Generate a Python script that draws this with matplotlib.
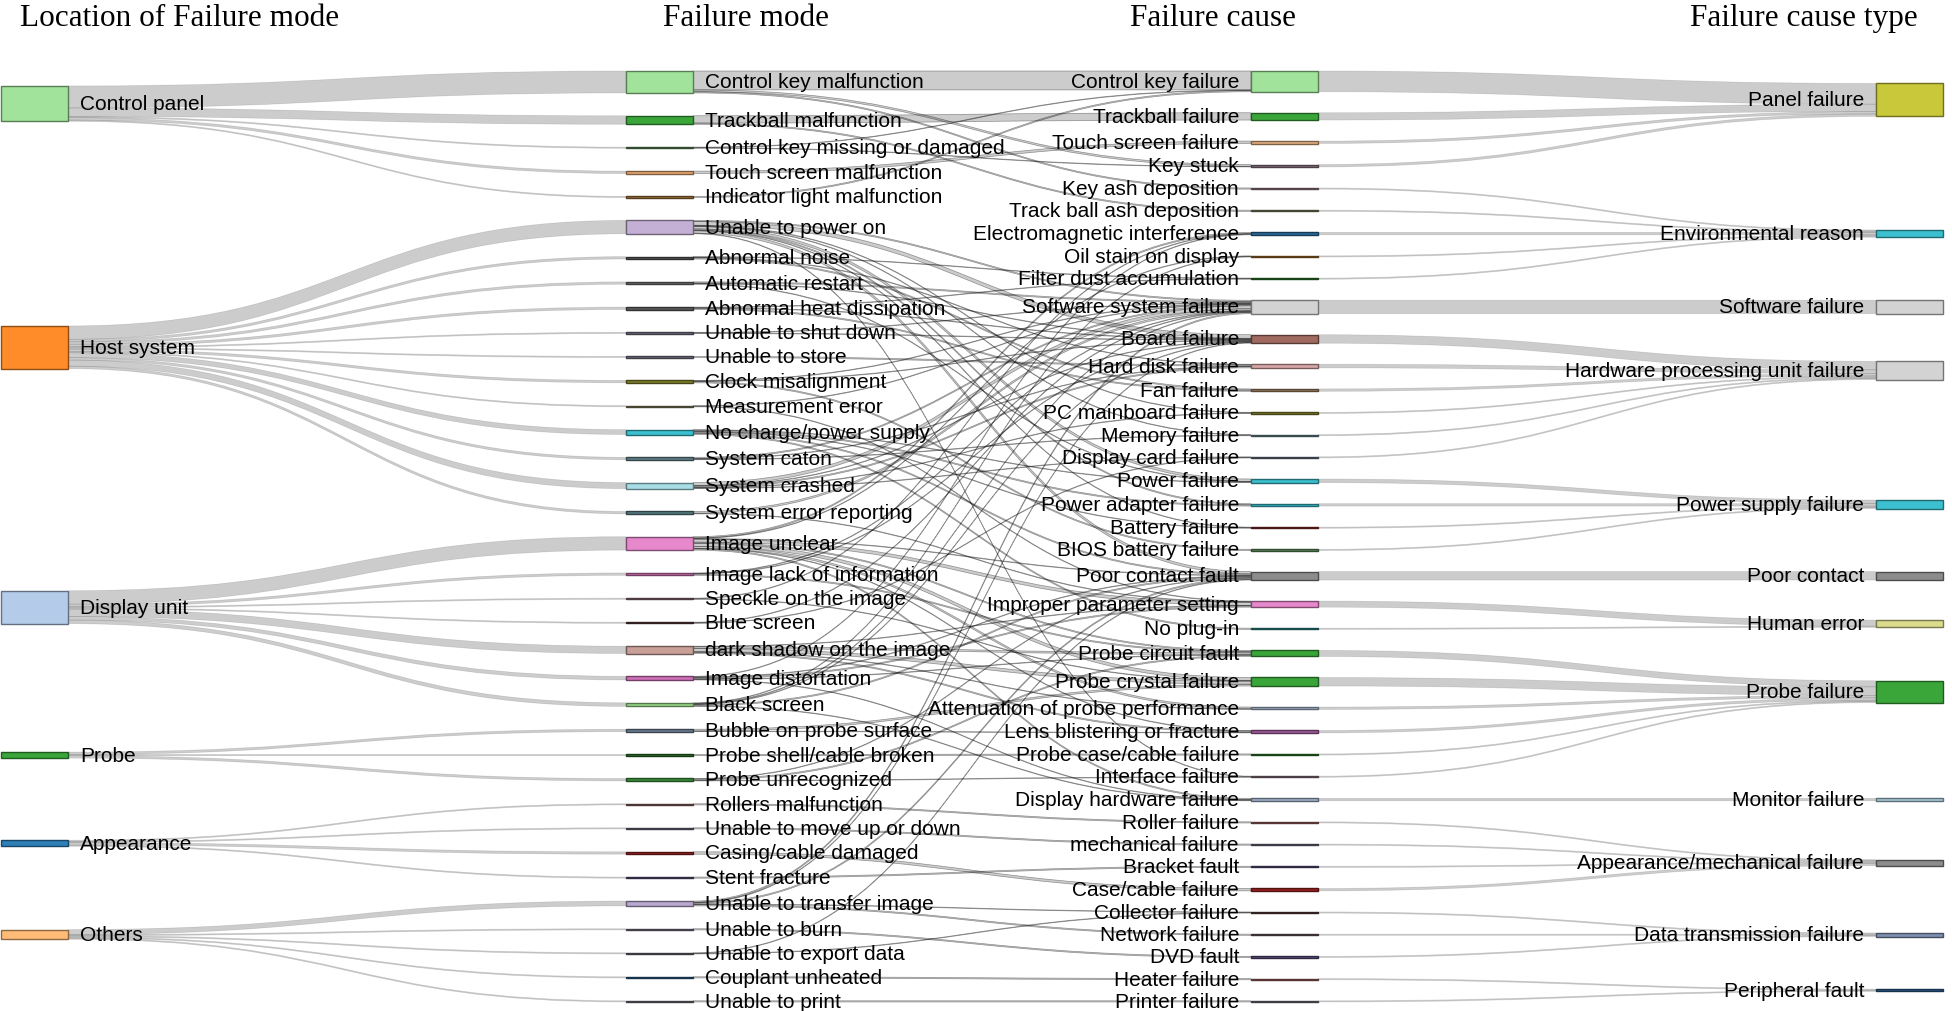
import numpy as np
import matplotlib
matplotlib.use("Agg")
import matplotlib.pyplot as plt
from matplotlib.path import Path
from matplotlib.patches import PathPatch, Rectangle
from matplotlib.colors import to_rgb

# ---------------------------------------------------------------- data
titles = ["Location of Failure mode", "Failure mode", "Failure cause", "Failure cause type"]

locations = ["Control panel", "Host system", "Display unit", "Probe", "Appearance", "Others"]

failure_modes = [
    "Control key malfunction", "Trackball malfunction", "Control key missing or damaged",
    "Touch screen malfunction", "Indicator light malfunction",
    "Unable to power on", "Abnormal noise", "Automatic restart", "Abnormal heat dissipation",
    "Unable to shut down", "Unable to store", "Clock misalignment", "Measurement error",
    "No charge/power supply", "System caton", "System crashed", "System error reporting",
    "Image unclear", "Image lack of information", "Speckle on the image", "Blue screen",
    "dark shadow on the image", "Image distortation", "Black screen",
    "Bubble on probe surface", "Probe shell/cable broken", "Probe unrecognized",
    "Rollers malfunction", "Unable to move up or down", "Casing/cable damaged", "Stent fracture",
    "Unable to transfer image", "Unable to burn", "Unable to export data", "Couplant unheated",
    "Unable to print",
]
mode_location = (["Control panel"] * 5 + ["Host system"] * 12 + ["Display unit"] * 7
                 + ["Probe"] * 3 + ["Appearance"] * 4 + ["Others"] * 5)
mode_counts = [36, 14, 2, 4, 2,
               22, 4, 4, 4, 2, 2, 4, 2, 8, 4, 10, 4,
               22, 4, 2, 2, 12, 6, 6,
               4, 2, 4,
               2, 2, 4, 2,
               8, 2, 2, 2, 2]

failure_causes = [
    "Control key failure", "Trackball failure", "Touch screen failure", "Key stuck",
    "Key ash deposition", "Track ball ash deposition", "Electromagnetic interference",
    "Oil stain on display", "Filter dust accumulation", "Software system failure",
    "Board failure", "Hard disk failure", "Fan failure", "PC mainboard failure",
    "Memory failure", "Display card failure", "Power failure", "Power adapter failure",
    "Battery failure", "BIOS battery failure", "Poor contact fault",
    "Improper parameter setting", "No plug-in", "Probe circuit fault", "Probe crystal failure",
    "Attenuation of probe performance", "Lens blistering or fracture",
    "Probe case/cable failure", "Interface failure", "Display hardware failure",
    "Roller failure", "mechanical failure", "Bracket fault", "Case/cable failure",
    "Collector failure", "Network failure", "DVD fault", "Heater failure", "Printer failure",
]
cause_type = (["Panel failure"] * 4 + ["Environmental reason"] * 5 + ["Software failure"]
              + ["Hardware processing unit failure"] * 6 + ["Power supply failure"] * 4
              + ["Poor contact"] + ["Human error"] * 2 + ["Probe failure"] * 6
              + ["Monitor failure"] + ["Appearance/mechanical failure"] * 4
              + ["Data transmission failure"] * 3 + ["Peripheral fault"] * 2)

cause_types = ["Panel failure", "Environmental reason", "Software failure",
               "Hardware processing unit failure", "Power supply failure", "Poor contact",
               "Human error", "Probe failure", "Monitor failure",
               "Appearance/mechanical failure", "Data transmission failure", "Peripheral fault"]

mode_cause_links = [
    ("Control key malfunction", "Control key failure", 31),
    ("Control key malfunction", "Key stuck", 3),
    ("Control key malfunction", "Key ash deposition", 2),
    ("Trackball malfunction", "Trackball failure", 12),
    ("Trackball malfunction", "Track ball ash deposition", 2),
    ("Control key missing or damaged", "Control key failure", 1),
    ("Control key missing or damaged", "Key stuck", 1),
    ("Touch screen malfunction", "Touch screen failure", 4),
    ("Indicator light malfunction", "Control key failure", 2),
    ("Unable to power on", "Power failure", 4),
    ("Unable to power on", "Power adapter failure", 2),
    ("Unable to power on", "Board failure", 6),
    ("Unable to power on", "Poor contact fault", 4),
    ("Unable to power on", "Software system failure", 2),
    ("Unable to power on", "PC mainboard failure", 1),
    ("Unable to power on", "Battery failure", 1),
    ("Unable to power on", "Memory failure", 1),
    ("Unable to power on", "Interface failure", 1),
    ("Abnormal noise", "Fan failure", 2),
    ("Abnormal noise", "Hard disk failure", 1),
    ("Abnormal noise", "Filter dust accumulation", 1),
    ("Automatic restart", "Software system failure", 2),
    ("Automatic restart", "Power failure", 1),
    ("Automatic restart", "Board failure", 1),
    ("Abnormal heat dissipation", "Fan failure", 2),
    ("Abnormal heat dissipation", "Filter dust accumulation", 1),
    ("Abnormal heat dissipation", "Board failure", 1),
    ("Unable to shut down", "Software system failure", 1),
    ("Unable to shut down", "Board failure", 1),
    ("Unable to store", "Hard disk failure", 2),
    ("Clock misalignment", "BIOS battery failure", 2),
    ("Clock misalignment", "Software system failure", 1),
    ("Clock misalignment", "Board failure", 1),
    ("Measurement error", "Improper parameter setting", 1),
    ("Measurement error", "Software system failure", 1),
    ("No charge/power supply", "Battery failure", 1),
    ("No charge/power supply", "Power adapter failure", 2),
    ("No charge/power supply", "No plug-in", 2),
    ("No charge/power supply", "Poor contact fault", 2),
    ("No charge/power supply", "Power failure", 1),
    ("System caton", "Software system failure", 2),
    ("System caton", "Memory failure", 1),
    ("System caton", "Hard disk failure", 1),
    ("System crashed", "Software system failure", 5),
    ("System crashed", "Hard disk failure", 2),
    ("System crashed", "PC mainboard failure", 1),
    ("System crashed", "Board failure", 1),
    ("System crashed", "Display card failure", 1),
    ("System error reporting", "Software system failure", 3),
    ("System error reporting", "Improper parameter setting", 1),
    ("Image unclear", "Improper parameter setting", 5),
    ("Image unclear", "Probe crystal failure", 5),
    ("Image unclear", "Attenuation of probe performance", 3),
    ("Image unclear", "Electromagnetic interference", 2),
    ("Image unclear", "Oil stain on display", 1),
    ("Image unclear", "Display hardware failure", 2),
    ("Image unclear", "Probe circuit fault", 2),
    ("Image unclear", "Poor contact fault", 1),
    ("Image unclear", "Lens blistering or fracture", 1),
    ("Image lack of information", "Probe circuit fault", 2),
    ("Image lack of information", "Board failure", 1),
    ("Image lack of information", "Software system failure", 1),
    ("Speckle on the image", "Electromagnetic interference", 1),
    ("Speckle on the image", "Probe crystal failure", 1),
    ("Blue screen", "Display card failure", 1),
    ("Blue screen", "Software system failure", 1),
    ("dark shadow on the image", "Probe crystal failure", 5),
    ("dark shadow on the image", "Probe circuit fault", 3),
    ("dark shadow on the image", "Lens blistering or fracture", 2),
    ("dark shadow on the image", "Attenuation of probe performance", 1),
    ("dark shadow on the image", "Improper parameter setting", 1),
    ("Image distortation", "Probe circuit fault", 1),
    ("Image distortation", "Improper parameter setting", 2),
    ("Image distortation", "Poor contact fault", 1),
    ("Image distortation", "Electromagnetic interference", 1),
    ("Image distortation", "Display hardware failure", 1),
    ("Black screen", "Board failure", 1),
    ("Black screen", "Display hardware failure", 1),
    ("Black screen", "Poor contact fault", 2),
    ("Black screen", "Software system failure", 1),
    ("Black screen", "Oil stain on display", 1),
    ("Bubble on probe surface", "Lens blistering or fracture", 1),
    ("Bubble on probe surface", "Probe crystal failure", 3),
    ("Probe shell/cable broken", "Probe case/cable failure", 2),
    ("Probe unrecognized", "Probe circuit fault", 2),
    ("Probe unrecognized", "Poor contact fault", 1),
    ("Probe unrecognized", "Interface failure", 1),
    ("Rollers malfunction", "Roller failure", 2),
    ("Unable to move up or down", "mechanical failure", 2),
    ("Casing/cable damaged", "Case/cable failure", 4),
    ("Stent fracture", "Bracket fault", 2),
    ("Unable to transfer image", "Collector failure", 1),
    ("Unable to transfer image", "Network failure", 2),
    ("Unable to transfer image", "Board failure", 1),
    ("Unable to transfer image", "Poor contact fault", 2),
    ("Unable to transfer image", "Software system failure", 2),
    ("Unable to burn", "DVD fault", 2),
    ("Unable to export data", "Collector failure", 1),
    ("Unable to export data", "Poor contact fault", 1),
    ("Couplant unheated", "Heater failure", 2),
    ("Unable to print", "Printer failure", 2),
]

# ---------------------------------------------------------------- styles
location_colors = ["#a1e39a", "#ff8c28", "#b4cbe9", "#3aa63a", "#2f7fb8", "#ffbb78"]
mode_colors = ["#a1e39a", "#3aa63a", "#5a8a55", "#e6a873", "#a0703a",
               "#c5b0d5", "#555555", "#6e6e6e", "#5a5a5a", "#6e6e80", "#707080",
               "#7d7d2a", "#80805a", "#3cc0d0", "#5f7f85", "#a8dde6", "#557a80",
               "#e787cc", "#d070b0", "#8c6a7a", "#5a3a3a", "#c8a098", "#d070b8", "#98d888",
               "#6a7a90", "#2a6a2a", "#3a8a3a",
               "#8c6060", "#6f6a80", "#962020", "#5a4a7a",
               "#b8a8d0", "#7a7085", "#6a6575", "#2a5a8a", "#707080"]
cause_colors = ["#a1e39a", "#3aa63a", "#e0b080", "#8a7080", "#9a7a8a", "#7f8060",
                "#2a6a9a", "#a06a2a", "#2a7a2a", "#d3d3d3", "#a06a60", "#d8a8a8",
                "#a08060", "#7d7d2a", "#6a8a90", "#6a7585", "#3cc0d0", "#3cc0d0",
                "#8a2a2a", "#5a8a5a", "#8c8c8c", "#e787cc", "#2a8a8a", "#3aa63a",
                "#3aa63a", "#a8b8d0", "#a05a9a", "#2a7a2a", "#8a7080", "#a0b0c8",
                "#a06060", "#6f6a80", "#5a4a7a", "#962020", "#5a3a3a", "#6a5a5a",
                "#5a4a7a", "#a06060", "#707080"]
type_colors = ["#c8c83a", "#3cc0d0", "#d3d3d3", "#d3d3d3", "#3cc0d0", "#8c8c8c",
               "#dbdb8d", "#3aa63a", "#a8c8d8", "#8c8c8c", "#8090b0", "#2a5a8a"]

W, H = 1952, 1012
COL_X = [1, 626, 1251, 1876]       # left edge of each node column (px)
NODE_W = 67
Y_TOP, Y_BOT = 72, 1003
KY = 0.61                          # px per failure record
PY_OUTER = 40                      # minimum padding in the sparse outer columns

# ---------------------------------------------------------------- graph
columns_names = [locations, failure_modes, failure_causes, cause_types]
columns_colors = [location_colors, mode_colors, cause_colors, type_colors]
nodes, ncolors, node_id = [], [], {}
for c, names in enumerate(columns_names):
    for nm, colr in zip(names, columns_colors[c]):
        node_id[(c, nm)] = len(nodes)
        nodes.append((nm, c))
        ncolors.append(colr)
N = len(nodes)

links = []
for m, loc, v in zip(failure_modes, mode_location, mode_counts):
    links.append([node_id[(0, loc)], node_id[(1, m)], v])
for m, cz, v in mode_cause_links:
    links.append([node_id[(1, m)], node_id[(2, cz)], v])
cause_in = {cz: 0 for cz in failure_causes}
for m, cz, v in mode_cause_links:
    cause_in[cz] += v
for cz, t in zip(failure_causes, cause_type):
    links.append([node_id[(2, cz)], node_id[(3, t)], cause_in[cz]])

L = len(links)
lsrc = [l[0] for l in links]
ltgt = [l[1] for l in links]
lval = [l[2] for l in links]
lw_ = [v * KY for v in lval]
src_links = [[] for _ in range(N)]
tgt_links = [[] for _ in range(N)]
for i, (s, t, v) in enumerate(links):
    src_links[s].append(i)
    tgt_links[t].append(i)
val = [max(sum(lval[i] for i in src_links[n]), sum(lval[i] for i in tgt_links[n])) for n in range(N)]
columns = [[n for n in range(N) if nodes[n][1] == c] for c in range(4)]

# ---------------------------------------------------------------- layout
y0 = np.zeros(N)
y1 = np.zeros(N)


def justify(col):
    y = Y_TOP
    for n in col:
        y0[n] = y
        y1[n] = y + val[n] * KY
        y = y1[n]
    gap = (Y_BOT - y) / (len(col) - 1)
    for i, n in enumerate(col):
        y0[n] += gap * i
        y1[n] += gap * i


def reorder():
    for n in range(N):
        src_links[n].sort(key=lambda i: (y0[ltgt[i]], i))
        tgt_links[n].sort(key=lambda i: (y0[lsrc[i]], i))


def link_offsets():
    so = np.zeros(L)
    to = np.zeros(L)
    for n in range(N):
        y = 0.0
        for i in src_links[n]:
            so[i] = y
            y += lw_[i]
        y = 0.0
        for i in tgt_links[n]:
            to[i] = y
            y += lw_[i]
    return so, to


def resolve(col, pad):
    y = Y_TOP
    for n in col:
        if y0[n] < y:
            y1[n] += y - y0[n]
            y0[n] = y
        y = y1[n] + pad
    y = Y_BOT
    for n in reversed(col):
        if y1[n] > y:
            y0[n] -= y1[n] - y
            y1[n] = y
        y = y0[n] - pad


# dense middle columns are spread over the full height
justify(columns[1])
justify(columns[2])
# outer columns sit at the value-weighted position of their links
for c, outward in ((0, True), (3, False)):
    for n in columns[c]:
        y0[n], y1[n] = 0.0, val[n] * KY
    reorder()
    so, to = link_offsets()
    for n in columns[c]:
        acc = wsum = 0.0
        lst = src_links[n] if outward else tgt_links[n]
        for i in lst:
            if outward:
                acc += (y0[ltgt[i]] + to[i] - so[i]) * lval[i]
            else:
                acc += (y0[lsrc[i]] + so[i] - to[i]) * lval[i]
            wsum += lval[i]
        y0[n] = acc / wsum
        y1[n] = y0[n] + val[n] * KY
    resolve(columns[c], PY_OUTER)
reorder()
so, to = link_offsets()
sy = np.array([y0[lsrc[i]] + so[i] + lw_[i] / 2 for i in range(L)])
ty = np.array([y0[ltgt[i]] + to[i] + lw_[i] / 2 for i in range(L)])

# ---------------------------------------------------------------- draw
plt.rcParams["font.family"] = ["Liberation Sans", "DejaVu Sans"]
fig = plt.figure(figsize=(W / 100, H / 100), dpi=100)
ax = fig.add_axes([0, 0, 1, 1])
ax.set_xlim(0, W)
ax.set_ylim(H, 0)
ax.axis("off")

for i in range(L):
    s, t = lsrc[i], ltgt[i]
    xa = COL_X[nodes[s][1]] + NODE_W
    xb = COL_X[nodes[t][1]]
    xm = (xa + xb) / 2
    h = lw_[i] / 2
    verts = [(xa, sy[i] - h), (xm, sy[i] - h), (xm, ty[i] - h), (xb, ty[i] - h),
             (xb, ty[i] + h), (xm, ty[i] + h), (xm, sy[i] + h), (xa, sy[i] + h),
             (xa, sy[i] - h)]
    codes = [Path.MOVETO, Path.CURVE4, Path.CURVE4, Path.CURVE4, Path.LINETO,
             Path.CURVE4, Path.CURVE4, Path.CURVE4, Path.CLOSEPOLY]
    middle = nodes[s][1] == 1
    ec = (0, 0, 0, 0.38) if middle else (0, 0, 0, 0.12)
    ax.add_patch(PathPatch(Path(verts, codes), facecolor=(0, 0, 0, 0.2),
                           edgecolor=ec, lw=0.5, zorder=1))


def darker(c, f=0.55):
    r, g, b = to_rgb(c)
    return (r * f, g * f, b * f)


for n in range(N):
    nm, c = nodes[n]
    x = COL_X[c]
    ax.add_patch(Rectangle((x, y0[n]), NODE_W, y1[n] - y0[n], facecolor=ncolors[n],
                           edgecolor=darker(ncolors[n]), lw=1.0, zorder=3))
    yc = (y0[n] + y1[n]) / 2
    if c < 2:
        ax.text(x + NODE_W + 12, yc, nm, ha="left", va="center", fontsize=15,
                color="black", zorder=4)
    else:
        ax.text(x - 12, yc, nm, ha="right", va="center", fontsize=15,
                color="black", zorder=4)

title_x = [20, 746, 1213, 1804]
title_ha = ["left", "center", "center", "center"]
for tx, ha, tt in zip(title_x, title_ha, titles):
    ax.text(tx, 18, tt, ha=ha, va="center", fontsize=22.5,
            family=["Liberation Serif", "DejaVu Serif"], color="black")

fig.savefig("out.png", dpi=100)
